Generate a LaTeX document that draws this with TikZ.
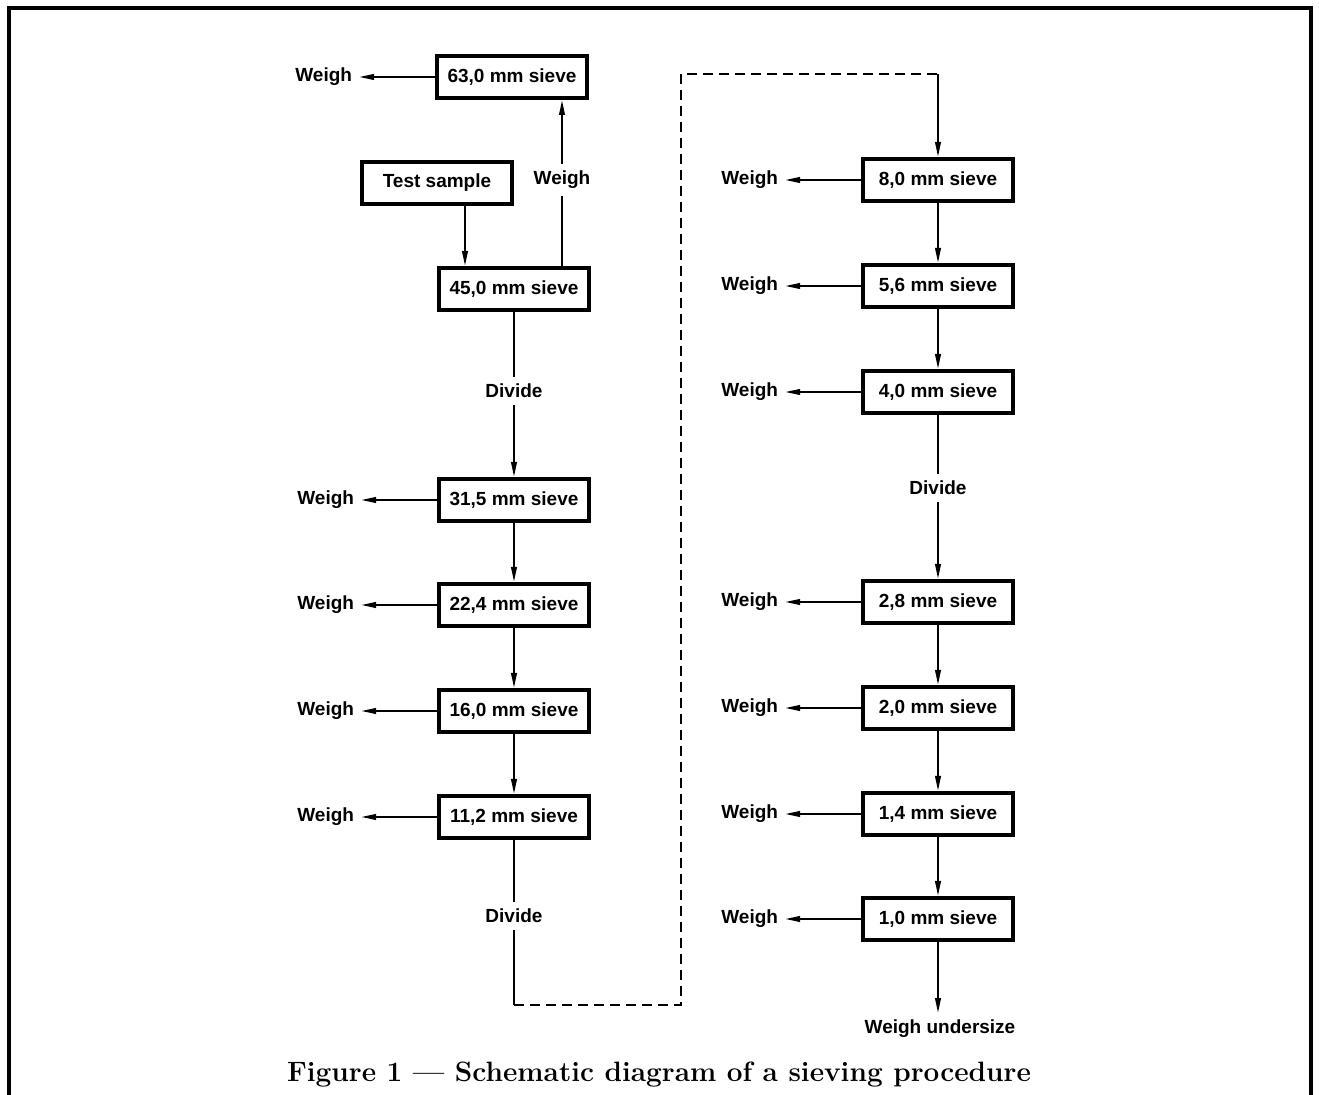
\documentclass[tikz,border=0pt]{standalone}
\usepackage{fontspec}
\setsansfont{Liberation Sans}
\usepackage{tikz}
\usetikzlibrary{positioning}
\usetikzlibrary{arrows.meta}

\begin{document}
\begin{tikzpicture}[x=0.5pt,y=-0.5pt,line width=1pt,>={Triangle[length=7.5pt,width=2.8pt]},node distance=38pt]
        \tikzstyle{sieve}=[draw,line width=2pt,minimum width=75pt,minimum height=21pt,inner sep=0pt,font=\sffamily\bfseries\fontsize{9.5}{11}\selectfont]
        \tikzstyle{annot}=[inner sep=3pt,font=\sffamily\bfseries\fontsize{9.5}{11}\selectfont]
        \tikzstyle{link}=[dashed,dash pattern=on 5pt off 3pt]
        \useasboundingbox (0,0) rectangle (1319,1095);

        % Frame
        \draw[line width=2pt] (9,1095) -- (9,8) -- (1311,8) -- (1311,1095);

        % Sieves (left column, then right column)
        \foreach \name/\lab/\x/\y in {63/{63,0}/512/77, 45/{45,0}/514/289, 315/{31,5}/514/500, 224/{22,4}/514/605,
                                      160/{16,0}/514/711, 112/{11,2}/514/817,
                                      80/{8,0}/938/180, 56/{5,6}/938/286, 40/{4,0}/938/392,
                                      28/{2,8}/938/602, 20/{2,0}/938/708, 14/{1,4}/938/814, 10/{1,0}/938/919}
            \node[sieve] (S-\name) at (\x,\y) {\lab\ mm sieve};

        \node[sieve] (T) at (437,183) {Test sample};

        % Weigh on the left of each sieve
        \foreach \name in {63,315,224,160,112,80,56,40,28,20,14,10} {
            \node[annot, left=of S-\name] (W-\name) {Weigh};
            \draw[->] (S-\name) -- (W-\name);
        }

        % Divide steps
        \node[annot] (D1) at (514,391) {Divide};
        \node[annot] (D2) at (514,916) {Divide};
        \node[annot] (D3) at (938,488) {Divide};
        \node[annot] (U) at (940,1029) {Weigh undersize};

        % Sample to 45,0 and 45,0 up to 63,0
        \coordinate (xa) at (465,0);
        \coordinate (xb) at (562,0);
        \node[annot] (Wup) at (562,180) {Weigh};
        \draw[->] (T.south -| xa) -- (S-45.north -| xa);
        \draw (S-45.north -| xb) -- (Wup);
        \draw[->] (Wup) -- (S-63.south -| xb);

        % Down the columns
        \draw (S-45) -- (D1);
        \draw[->] (D1) -- (S-315);
        \draw (S-40) -- (D3);
        \draw[->] (D3) -- (S-28);
        \foreach \a/\b in {315/224,224/160,160/112,80/56,56/40,28/20,20/14,14/10}
            \draw[->] (S-\a) -- (S-\b);
        \draw[->] (S-10) -- (S-10 |- U.north);

        % Carry over to the right column
        \coordinate (P1) at (514,1005);
        \coordinate (P2) at (681,1005);
        \coordinate (P3) at (681,74);
        \coordinate (P4) at (938,74);
        \draw (S-112) -- (D2);
        \draw (D2) -- (P1);
        \draw[link] (P1) -- (P2) -- (P3) -- (P4);
        \draw[->] (P4) -- (S-80);

        % Caption
        \node[font=\rmfamily\bfseries\fontsize{14}{16}\selectfont] (cap) at (659,1075) {Figure 1 --- Schematic diagram of a sieving procedure};
    \end{tikzpicture}
\end{document}
